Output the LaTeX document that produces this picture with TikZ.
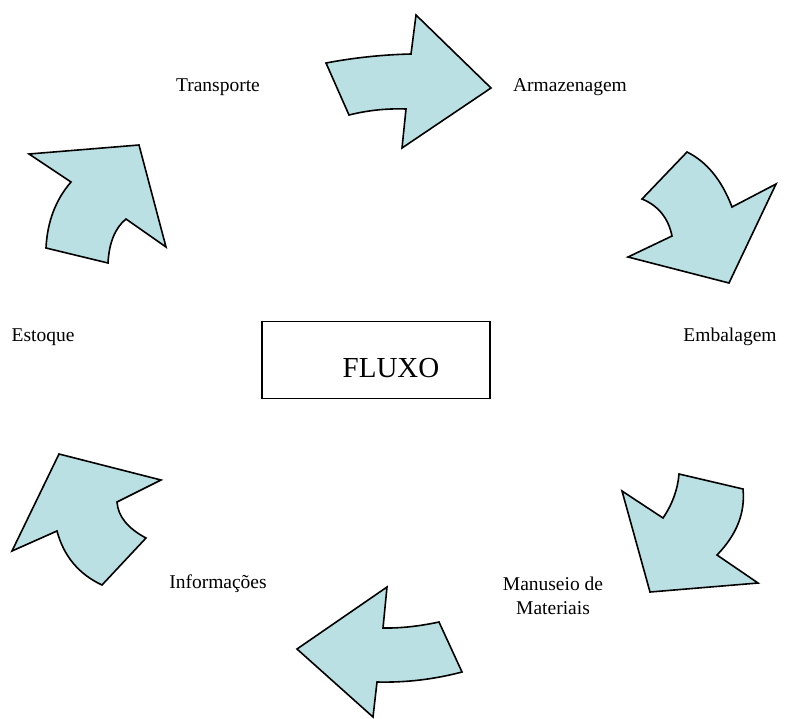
\documentclass[tikz,border=0pt]{standalone}
\usepackage{fontspec}
\setmainfont{Liberation Serif}
\definecolor{arrowfill}{HTML}{BBE0E3}
\begin{document}
\begin{tikzpicture}[x=1pt,y=-1pt,
  bigarrow/.style={draw=black,fill=arrowfill,line width=1.6pt,line join=miter},
  lbl/.style={font=\fontsize{19.5}{24}\selectfont,inner sep=0pt,align=center},
  flbox/.style={draw=black,line width=1.3pt,minimum width=228pt,minimum height=77pt,inner sep=0pt}]
\useasboundingbox (0,0) rectangle (794,718);
% arrows
\draw[bigarrow] (326,63) .. controls (354,57.7) and (382.3,54.7) .. (411,54) -- (416,15) -- (491,88) -- (402,148) -- (406,109) .. controls (386.7,108.3) and (367.7,110.3) .. (349,115) -- cycle;
\draw[bigarrow] (687,152) .. controls (706.7,161.7) and (721.7,180) .. (732,207) -- (776,184) -- (729,283) -- (628,257) -- (672,236) .. controls (668.3,218) and (658.3,205.7) .. (642,199) -- cycle;
\draw[bigarrow] (679,474) -- (743,489) .. controls (745.4,512.7) and (736.7,534.7) .. (717,555) -- (758,583) -- (650,592) -- (622,491) -- (663,518) .. controls (672.3,504.3) and (677.7,489.6) .. cycle;
\draw[bigarrow] (387,587) -- (383,628) .. controls (400.3,628.3) and (419,626.3) .. (439,622) -- (462,672) .. controls (434.3,679.3) and (406,682.7) .. (377,682) -- (373,717) -- (297,649) -- cycle;
\draw[bigarrow] (59,454) -- (161,480) -- (117,502) .. controls (118,516.3) and (127.7,528.3) .. (146,538) -- (102,585) .. controls (78.7,574.1) and (63.7,556.1) .. (57,531) -- (12,551) -- cycle;
\draw[bigarrow] (29,154) -- (139,145) -- (166,247) -- (126,219) .. controls (115.1,227.9) and (109.1,242.6) .. (108,263) -- (46,248) .. controls (47.3,221.6) and (55.7,199.6) .. (71,182) -- cycle;
% center box
\node[flbox] (fluxo) at (376,360) {};
\node[font=\fontsize{29}{34}\selectfont,inner sep=0pt] (fluxotext) at (391,368) {FLUXO};
% labels
\node[lbl] (transporte) at (218,87) {Transporte};
\node[lbl] (armazenagem) at (570,87) {Armazenagem};
\node[lbl] (embalagem) at (730,337) {Embalagem};
\node[lbl] (estoque) at (43,337) {Estoque};
\node[lbl] (informacoes) at (218,584) {Informações};
\node[lbl] (manuseio) at (553,596) {Manuseio de\\Materiais};
\end{tikzpicture}
\end{document}
